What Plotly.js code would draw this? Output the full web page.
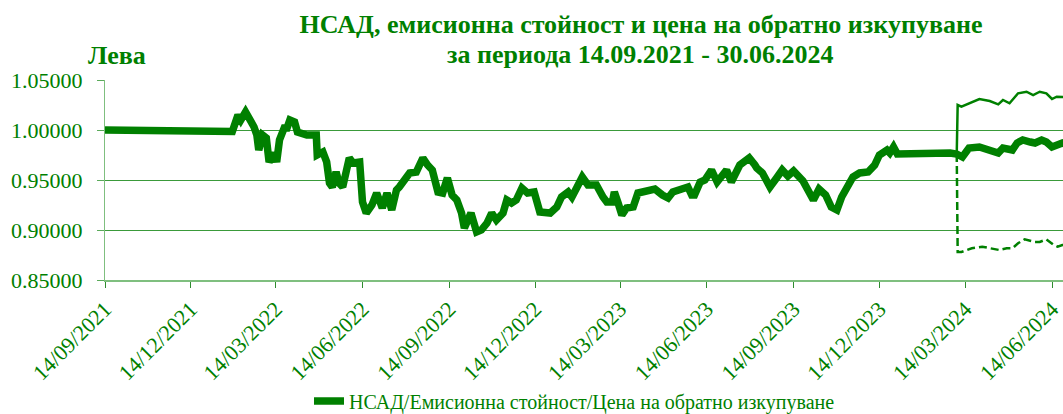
<!DOCTYPE html>
<html>
<head>
<meta charset="utf-8">
<script src="https://cdn.plot.ly/plotly-3.0.1.min.js"></script>
<style>html,body{margin:0;padding:0;background:#fff;}#chart{width:1063px;height:414px;}</style>
</head>
<body>
<div id="chart"></div>
<script>
// Main series: НСАД / емисионна стойност / цена на обратно изкупуване
const mainDates = [
 '2021-09-14','2021-11-15','2021-12-13','2022-01-26','2022-01-27','2022-02-02','2022-02-05','2022-02-10','2022-02-16','2022-02-19',
 '2022-02-22','2022-02-24','2022-02-28','2022-03-04','2022-03-07','2022-03-12','2022-03-15','2022-03-18','2022-03-23','2022-03-26',
 '2022-03-29','2022-04-03','2022-04-06','2022-04-11','2022-04-16','2022-04-26','2022-04-27','2022-05-03','2022-05-07','2022-05-10',
 '2022-05-13','2022-05-17','2022-05-20','2022-05-24','2022-05-28','2022-05-31','2022-06-04','2022-06-11','2022-06-14','2022-06-18',
 '2022-06-24','2022-06-29','2022-07-05','2022-07-10','2022-07-15','2022-07-20','2022-07-23','2022-07-29','2022-08-03','2022-08-10',
 '2022-08-17','2022-08-22','2022-08-27','2022-09-02','2022-09-07','2022-09-12','2022-09-17','2022-09-22','2022-09-27','2022-09-30',
 '2022-10-07','2022-10-13','2022-10-18','2022-10-24','2022-10-29','2022-11-03','2022-11-10','2022-11-14','2022-11-19','2022-11-24',
 '2022-11-30','2022-12-06','2022-12-13','2022-12-19','2022-12-30','2023-01-06','2023-01-11','2023-01-18','2023-01-22','2023-01-27',
 '2023-02-02','2023-02-08','2023-02-17','2023-02-24','2023-02-28','2023-03-06','2023-03-08','2023-03-12','2023-03-16','2023-03-21',
 '2023-03-28','2023-04-02','2023-04-11','2023-04-20','2023-04-28','2023-05-04','2023-05-09','2023-05-19','2023-05-25','2023-05-29',
 '2023-06-01','2023-06-07','2023-06-12','2023-06-19','2023-06-25','2023-07-05','2023-07-10','2023-07-19','2023-07-29','2023-08-04',
 '2023-08-06','2023-08-12','2023-08-20','2023-08-27','2023-09-02','2023-09-08','2023-09-14','2023-09-24','2023-09-30','2023-10-05',
 '2023-10-11','2023-10-18','2023-10-24','2023-10-30','2023-11-04','2023-11-09','2023-11-16','2023-11-23','2023-12-02','2023-12-09',
 '2023-12-14','2023-12-22','2023-12-25','2023-12-29','2024-01-02','2024-02-27','2024-03-05','2024-03-11','2024-03-18','2024-03-29',
 '2024-04-09','2024-04-18','2024-04-23','2024-05-03','2024-05-08','2024-05-14','2024-05-22','2024-05-27','2024-06-03','2024-06-08',
 '2024-06-14','2024-06-19','2024-06-25','2024-06-28'
];
const mainValues = [
 1.0000,1.0000,0.9998,0.9990,0.9985,1.0150,1.0100,1.0180,1.0100,1.0030,
 0.9950,0.9800,0.9950,0.9920,0.9680,0.9770,0.9680,0.9900,1.0020,1.0020,
 1.0100,1.0080,0.9980,0.9970,0.9950,0.9950,0.9750,0.9780,0.9680,0.9470,
 0.9430,0.9580,0.9470,0.9430,0.9620,0.9720,0.9670,0.9680,0.9280,0.9170,
 0.9250,0.9370,0.9220,0.9370,0.9200,0.9400,0.9430,0.9500,0.9570,0.9580,
 0.9720,0.9650,0.9600,0.9380,0.9370,0.9520,0.9350,0.9300,0.9170,0.9020,
 0.9170,0.8980,0.9000,0.9070,0.9170,0.9100,0.9170,0.9300,0.9270,0.9300,
 0.9420,0.9370,0.9380,0.9180,0.9170,0.9230,0.9330,0.9380,0.9330,0.9420,
 0.9530,0.9450,0.9450,0.9330,0.9280,0.9280,0.9380,0.9270,0.9150,0.9220,
 0.9230,0.9370,0.9390,0.9410,0.9350,0.9320,0.9380,0.9400,0.9430,0.9350,
 0.9350,0.9480,0.9500,0.9600,0.9480,0.9600,0.9480,0.9650,0.9720,0.9650,
 0.9620,0.9570,0.9430,0.9520,0.9600,0.9540,0.9590,0.9490,0.9370,0.9300,
 0.9410,0.9350,0.9230,0.9200,0.9330,0.9420,0.9530,0.9570,0.9580,0.9650,
 0.9750,0.9800,0.9770,0.9830,0.9760,0.9770,0.9760,0.9730,0.9820,0.9830,
 0.9800,0.9770,0.9820,0.9800,0.9870,0.9900,0.9880,0.9870,0.9900,0.9880,
 0.9830,0.9850,0.9870,0.9860
];
// Emission value (upper, solid thin)
const emisDates = [
 '2024-03-05','2024-03-06','2024-03-10','2024-03-18','2024-03-29','2024-04-09','2024-04-18','2024-04-23','2024-04-30','2024-05-09',
 '2024-05-18','2024-05-25','2024-06-01','2024-06-08','2024-06-14','2024-06-19','2024-06-25','2024-06-28'
];
const emisValues = [
 0.9760,1.0250,1.0233,1.0267,1.0310,1.0290,1.0257,1.0300,1.0267,1.0367,
 1.0383,1.0350,1.0383,1.0367,1.0310,1.0333,1.0333,1.0330
];
// Redemption price (lower, dashed)
const redDates = [
 '2024-03-05','2024-03-06','2024-03-10','2024-03-21','2024-04-01','2024-04-12','2024-04-19','2024-04-27','2024-05-03','2024-05-09',
 '2024-05-16','2024-05-27','2024-06-01','2024-06-08','2024-06-15','2024-06-20','2024-06-25','2024-06-28'
];
const redValues = [
 0.9760,0.8780,0.8780,0.8817,0.8833,0.8817,0.8800,0.8817,0.8817,0.8867,
 0.8907,0.8880,0.8880,0.8907,0.8857,0.8833,0.8850,0.8850
];
const tickDates = ['2021-09-14','2021-12-14','2022-03-14','2022-06-14','2022-09-14','2022-12-14','2023-03-14','2023-06-14','2023-09-14','2023-12-14','2024-03-14','2024-06-14'];
const tickLabels = ['14/09/2021','14/12/2021','14/03/2022','14/06/2022','14/09/2022','14/12/2022','14/03/2023','14/06/2023','14/09/2023','14/12/2023','14/03/2024','14/06/2024'];
const yTicks = [0.85, 0.90, 0.95, 1.00, 1.05];

const GREEN = '#008000';
const FONT = 'Liberation Serif';

const traces = [
  {x: emisDates, y: emisValues, type: 'scatter', mode: 'lines', line: {color: GREEN, width: 2.5}, showlegend: false, hoverinfo: 'skip'},
  {x: redDates, y: redValues, type: 'scatter', mode: 'lines', line: {color: GREEN, width: 2.5, dash: '8px,4px'}, showlegend: false, hoverinfo: 'skip'},
  {x: mainDates, y: mainValues, type: 'scatter', mode: 'lines', name: 'НСАД/Емисионна стойност/Цена на обратно изкупуване',
   line: {color: GREEN, width: 7.5}}
];

const layout = {
  width: 1063, height: 414,
  margin: {l: 105, r: 0, t: 80, b: 134, pad: 0, autoexpand: false},
  paper_bgcolor: '#ffffff', plot_bgcolor: '#ffffff',
  font: {family: FONT, color: GREEN},
  title: {text: '<b>НСАД, емисионна стойност и цена на обратно изкупуване</b>', font: {family: FONT, size: 26, color: GREEN},
          xref: 'container', x: 641/1063, xanchor: 'center', yref: 'container', y: 1 - 24/414, yanchor: 'middle'},
  annotations: [
    {text: '<b>за периода 14.09.2021 - 30.06.2024</b>', xref: 'paper', yref: 'paper', x: (640-105)/958, y: (280-54)/200,
     xanchor: 'center', yanchor: 'middle', showarrow: false, font: {family: FONT, size: 26, color: GREEN}},
    {text: '<b>Лева</b>', xref: 'paper', yref: 'paper', x: (86-105)/958, y: (280-56)/200,
     xanchor: 'left', yanchor: 'middle', showarrow: false, font: {family: FONT, size: 26, color: GREEN}}
  ],
  xaxis: {
    type: 'date', range: ['2021-09-14', '2024-06-25 16:00'], automargin: false,
    tickmode: 'array', tickvals: tickDates, ticktext: tickLabels, tickangle: -45,
    tickfont: {family: FONT, size: 22, color: GREEN}, ticklabeloverflow: 'allow',
    showgrid: false, zeroline: false,
    showline: true, linecolor: '#7fbf7f', linewidth: 1.5,
    ticks: 'outside', ticklen: 6, tickcolor: '#2e8b2e', tickwidth: 1
  },
  yaxis: {
    range: [0.85, 1.05], tickmode: 'array', tickvals: yTicks, tickformat: '.5f', automargin: false,
    tickfont: {family: FONT, size: 22, color: GREEN},
    showgrid: true, gridcolor: '#3a9a3a', gridwidth: 1, zeroline: false,
    showline: true, linecolor: '#7fbf7f', linewidth: 1,
    ticks: 'outside', ticklen: 7, tickcolor: '#5aaa5a', ticklabelstandoff: 10
  },
  showlegend: true,
  legend: {orientation: 'h', x: (309-105)/958, xanchor: 'left', y: -(401-280)/200, yanchor: 'middle',
           font: {family: FONT, size: 20, color: GREEN}, bgcolor: 'rgba(0,0,0,0)'}
};

Plotly.newPlot('chart', traces, layout, {displayModeBar: false, staticPlot: true});
</script>
</body>
</html>
